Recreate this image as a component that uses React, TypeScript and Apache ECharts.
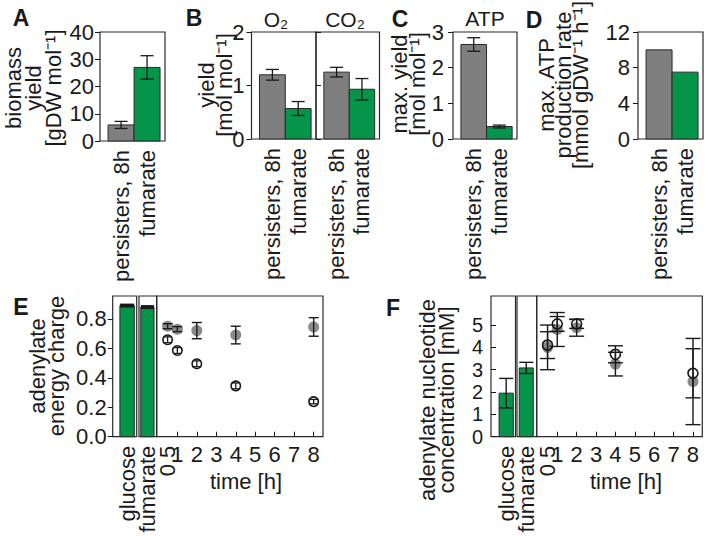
import React, { useEffect, useRef } from 'react';
import * as echarts from 'echarts';

const FONT = '"Liberation Sans", Arial, Helvetica, sans-serif';
const GRAY = '#7f7f7f';
const GREEN = '#04944a';
const DOT = '#8a8a8a';
const INK = '#1a1a1a';
const FS = 22;

// ---------- data: panels A-D ----------
const barCategories = ['persisters, 8h', 'fumarate'];
const barColors = [GRAY, GREEN];
const biomassYield = [5.9, 27.0];
const biomassYieldErr = [1.3, 4.3];
const o2Yield = [1.2, 0.57];
const o2YieldErr = [0.1, 0.13];
const co2Yield = [1.25, 0.93];
const co2YieldErr = [0.09, 0.2];
const atpMaxYield = [2.65, 0.35];
const atpMaxYieldErr = [0.19, 0.04];
const atpMaxRate = [10.0, 7.5];

// ---------- data: panels E-F ----------
const refCategories = ['glucose', 'fumarate'];
const energyChargeRef = [0.89, 0.88];
const energyChargeRefErr = [0.005, 0.005];
const nucleotideRef = [1.95, 3.08];
const nucleotideRefErr = [0.66, 0.25];

const timeH = [0.5, 1, 2, 4, 8];
const energyChargeFilled = [0.75, 0.73, 0.72, 0.69, 0.745];
const energyChargeFilledErr = [0.017, 0.017, 0.055, 0.06, 0.063];
const energyChargeOpen = [0.658, 0.585, 0.495, 0.345, 0.238];
const energyChargeOpenErr = [0.02, 0.02, 0.02, 0.02, 0.015];
const nucleotideFilled = [4.0, 4.8, 4.88, 3.25, 2.47];
const nucleotideFilledErr = [1.0, 0.76, 0.38, 0.53, 1.93];
const nucleotideOpen = [4.1, 5.05, 5.05, 3.69, 2.84];
const nucleotideOpenErr = [0.6, 0.33, 0.2, 0.38, 1.1];

// ---------- tick labels ----------
const timeTicks = [1, 2, 3, 4, 5, 6, 7, 8];
const rotatedTimeTicks = [0.5];
const energyTicks = [0, 0.2, 0.4, 0.6, 0.8];
const nucleotideTicks = [0, 1, 2, 3, 4, 5];

// ---------- layout ----------
const BAR_POS = [0.81, 1.81];
const BAR_XMAX = 2.5;
const grids = [
  { left: 100, top: 32, width: 65, height: 109 }, // A
  { left: 251.5, top: 32, width: 64.5, height: 107 }, // B O2
  { left: 316, top: 32, width: 63.5, height: 107 }, // B CO2
  { left: 453, top: 32, width: 64, height: 107 }, // C
  { left: 638, top: 32, width: 65, height: 107 }, // D
  { left: 112.7, top: 296, width: 24, height: 140.7 }, // E glucose
  { left: 139, top: 296, width: 17.7, height: 140.7 }, // E fumarate
  { left: 156.7, top: 296, width: 166.3, height: 140.7 }, // E time
  { left: 491, top: 296, width: 24.5, height: 140.7 }, // F glucose
  { left: 517, top: 296, width: 19.7, height: 140.7 }, // F fumarate
  { left: 536.7, top: 296, width: 165.6, height: 140.7 }, // F time
];
const T_MIN = -0.06;
const T_MAX = 8.48;

function barSeries(idx: number, pos: number[], values: number[], colors: string[], halfW: number) {
  return {
    type: 'custom',
    xAxisIndex: idx,
    yAxisIndex: idx,
    silent: true,
    z: 2,
    encode: { x: 0, y: 1 },
    data: values.map((v, i) => [pos[i], v, i]),
    renderItem: (params: any, api: any) => {
      const x = api.value(0);
      const v = api.value(1);
      const i = api.value(2);
      const p1 = api.coord([x - halfW, v]);
      const p2 = api.coord([x + halfW, 0]);
      return {
        type: 'rect',
        shape: { x: p1[0], y: p1[1], width: p2[0] - p1[0], height: p2[1] - p1[1] },
        style: { fill: colors[i], stroke: '#2a2a2a', lineWidth: 1 },
      };
    },
  };
}

function errSeries(idx: number, xs: number[], ys: number[], es: number[], cap: number, lw: number, z: number) {
  return {
    type: 'custom',
    xAxisIndex: idx,
    yAxisIndex: idx,
    silent: true,
    z,
    encode: { x: 0, y: 1 },
    data: xs.map((x, i) => [x, ys[i], es[i]]),
    renderItem: (params: any, api: any) => {
      const x = api.value(0);
      const y = api.value(1);
      const e = api.value(2);
      const t = api.coord([x, y + e]);
      const b = api.coord([x, y - e]);
      const st = { stroke: INK, lineWidth: lw };
      return {
        type: 'group',
        children: [
          { type: 'line', shape: { x1: t[0], y1: t[1], x2: b[0], y2: b[1] }, style: st },
          { type: 'line', shape: { x1: t[0] - cap, y1: t[1], x2: t[0] + cap, y2: t[1] }, style: st },
          { type: 'line', shape: { x1: b[0] - cap, y1: b[1], x2: b[0] + cap, y2: b[1] }, style: st },
        ],
      };
    },
  };
}

const labelStyle = { fontSize: FS, fontFamily: FONT, color: INK };

function catXAxis(gridIndex: number, min: number, max: number, pos: number[], names: string[], margin: number) {
  return {
    type: 'value',
    gridIndex,
    position: 'bottom',
    offset: 0,
    min,
    max,
    axisLine: { show: false },
    axisTick: { show: false },
    splitLine: { show: false },
    axisLabel: {
      ...labelStyle,
      rotate: 90,
      margin,
      customValues: pos,
      formatter: (v: number) => {
        let best = 0;
        pos.forEach((p, i) => {
          if (Math.abs(p - v) < Math.abs(pos[best] - v)) best = i;
        });
        return names[best];
      },
    },
  };
}

function valYAxis(gridIndex: number, max: number, interval: number, margin: number) {
  return {
    type: 'value',
    gridIndex,
    min: 0,
    max,
    interval,
    axisLine: { show: false },
    splitLine: { show: false },
    axisTick: { show: true, length: 5, lineStyle: { color: INK, width: 1 } },
    axisLabel: { ...labelStyle, margin },
  };
}

function hiddenY(gridIndex: number, max: number) {
  return { type: 'value', gridIndex, min: 0, max, show: false, splitLine: { show: false } };
}

function txt(x: number, y: number, text: string, opts: any = {}) {
  const size = opts.size || FS;
  const weight = opts.bold ? 'bold' : 'normal';
  return {
    type: 'text',
    x,
    y,
    rotation: opts.rot ? Math.PI / 2 : 0,
    silent: true,
    style: {
      text,
      x: 0,
      y: 0,
      font: `${weight} ${size}px ${FONT}`,
      fontSize: size,
      fontWeight: weight,
      fontFamily: FONT,
      fill: INK,
      lineHeight: opts.lh || size,
      align: 'center',
      verticalAlign: 'middle',
      textAlign: 'center',
      textVerticalAlign: 'middle',
    },
  };
}

export default function App() {
  const ref = useRef<HTMLDivElement>(null);

  useEffect(() => {
    if (!ref.current) return;
    const chart = echarts.init(ref.current, undefined, { renderer: 'svg' });

    const E_MAX = 0.955;
    const F_MAX = 6.3;
    const E1_POS = [0.6];
    const E2_POS = [0.475];
    const F1_POS = [0.62];
    const F2_POS = [0.47];

    const timeAxis = (gridIndex: number) => ({
      type: 'value', gridIndex, position: 'bottom', min: T_MIN, max: T_MAX,
      axisLine: { show: false }, splitLine: { show: false },
      axisTick: { show: true, inside: true, length: 5, customValues: timeTicks, lineStyle: { color: INK } },
      axisLabel: { ...labelStyle, margin: 7, customValues: timeTicks },
    });

    const xAxis: any[] = [
      catXAxis(0, 0, BAR_XMAX, BAR_POS, barCategories, 9),
      catXAxis(1, 0, BAR_XMAX, BAR_POS, barCategories, 9),
      catXAxis(2, 0, BAR_XMAX, BAR_POS, barCategories, 9),
      catXAxis(3, 0, BAR_XMAX, BAR_POS, barCategories, 9),
      catXAxis(4, 0, BAR_XMAX, BAR_POS, barCategories, 9),
      catXAxis(5, 0, 1, E1_POS, [refCategories[0]], 9),
      catXAxis(6, 0, 1, E2_POS, [refCategories[1]], 9),
      timeAxis(7),
      catXAxis(8, 0, 1, F1_POS, [refCategories[0]], 9),
      catXAxis(9, 0, 1, F2_POS, [refCategories[1]], 9),
      timeAxis(10),
      catXAxis(7, T_MIN, T_MAX, rotatedTimeTicks, ['0.5'], 9),
      catXAxis(10, T_MIN, T_MAX, rotatedTimeTicks, ['0.5'], 9),
    ];

    const yAxis: any[] = [
      valYAxis(0, 40, 10, 6),
      valYAxis(1, 2, 1, 7),
      {
        type: 'value', gridIndex: 2, min: 0, max: 2, interval: 1,
        axisLine: { show: false }, splitLine: { show: false },
        axisTick: { show: true, inside: true, length: 5, lineStyle: { color: INK } },
        axisLabel: { show: false },
      },
      valYAxis(3, 3, 1, 9),
      valYAxis(4, 12, 4, 8),
      {
        type: 'value', gridIndex: 5, min: 0, max: E_MAX,
        axisLine: { show: false }, splitLine: { show: false },
        axisTick: { show: true, length: 5, customValues: energyTicks, lineStyle: { color: INK } },
        axisLabel: { ...labelStyle, margin: 6, customValues: energyTicks, formatter: (v: number) => v.toFixed(1) },
      },
      hiddenY(6, E_MAX),
      hiddenY(7, E_MAX),
      {
        type: 'value', gridIndex: 8, min: 0, max: F_MAX,
        axisLine: { show: false }, splitLine: { show: false },
        axisTick: { show: true, inside: true, length: 5, customValues: nucleotideTicks, lineStyle: { color: INK } },
        axisLabel: { ...labelStyle, fontSize: 20, lineHeight: 18, margin: 8, customValues: nucleotideTicks },
      },
      hiddenY(9, F_MAX),
      hiddenY(10, F_MAX),
    ];

    const series: any[] = [
      barSeries(0, BAR_POS, biomassYield, barColors, 0.5),
      errSeries(0, BAR_POS, biomassYield, biomassYieldErr, 6.5, 1.3, 3),
      barSeries(1, BAR_POS, o2Yield, barColors, 0.5),
      errSeries(1, BAR_POS, o2Yield, o2YieldErr, 6.5, 1.3, 3),
      barSeries(2, BAR_POS, co2Yield, barColors, 0.5),
      errSeries(2, BAR_POS, co2Yield, co2YieldErr, 6.5, 1.3, 3),
      barSeries(3, BAR_POS, atpMaxYield, barColors, 0.5),
      errSeries(3, BAR_POS, atpMaxYield, atpMaxYieldErr, 6.5, 1.3, 3),
      barSeries(4, BAR_POS, atpMaxRate, barColors, 0.5),

      barSeries(5, E1_POS, [energyChargeRef[0]], [GREEN], 0.3),
      errSeries(5, E1_POS, [energyChargeRef[0]], [energyChargeRefErr[0]], 7, 2.5, 3),
      barSeries(6, E2_POS, [energyChargeRef[1]], [GREEN], 0.375),
      errSeries(6, E2_POS, [energyChargeRef[1]], [energyChargeRefErr[1]], 6.5, 2.5, 3),
      {
        type: 'scatter', xAxisIndex: 7, yAxisIndex: 7, silent: true, z: 2,
        symbol: 'circle', symbolSize: 11,
        itemStyle: { color: DOT, opacity: 1 },
        data: timeH.map((t, i) => [t, energyChargeFilled[i]]),
      },
      errSeries(7, timeH, energyChargeFilled, energyChargeFilledErr, 5, 1.4, 3),
      {
        type: 'scatter', xAxisIndex: 7, yAxisIndex: 7, silent: true, z: 4,
        symbol: 'circle', symbolSize: 9.5,
        itemStyle: { color: 'rgba(255,255,255,0)', borderColor: INK, borderWidth: 1.6, opacity: 1 },
        data: timeH.map((t, i) => [t, energyChargeOpen[i]]),
      },
      errSeries(7, timeH, energyChargeOpen, energyChargeOpenErr, 4, 1.3, 5),

      barSeries(8, F1_POS, [nucleotideRef[0]], [GREEN], 0.29),
      errSeries(8, F1_POS, [nucleotideRef[0]], [nucleotideRefErr[0]], 7, 1.4, 3),
      barSeries(9, F2_POS, [nucleotideRef[1]], [GREEN], 0.355),
      errSeries(9, F2_POS, [nucleotideRef[1]], [nucleotideRefErr[1]], 7, 1.4, 3),
      {
        type: 'scatter', xAxisIndex: 10, yAxisIndex: 10, silent: true, z: 2,
        symbol: 'circle', symbolSize: 11,
        itemStyle: { color: DOT, opacity: 1 },
        data: timeH.map((t, i) => [t, nucleotideFilled[i]]),
      },
      errSeries(10, timeH, nucleotideFilled, nucleotideFilledErr, 7.5, 1.4, 3),
      {
        type: 'scatter', xAxisIndex: 10, yAxisIndex: 10, silent: true, z: 4,
        symbol: 'circle', symbolSize: 10,
        itemStyle: { color: 'rgba(255,255,255,0)', borderColor: INK, borderWidth: 1.6, opacity: 1 },
        data: timeH.map((t, i) => [t, nucleotideOpen[i]]),
      },
      errSeries(10, timeH, nucleotideOpen, nucleotideOpenErr, 7.5, 1.4, 5),
    ];

    const graphic: any[] = [
      txt(21, 18, 'A', { bold: true, size: 23 }),
      txt(194, 18, 'B', { bold: true, size: 23 }),
      txt(400, 19, 'C', { bold: true, size: 23 }),
      txt(534, 20, 'D', { bold: true, size: 23 }),
      txt(21, 307, 'E', { bold: true, size: 23 }),
      txt(393, 308, 'F', { bold: true, size: 23 }),
      txt(276, 19, 'O₂', { size: 21 }),
      txt(345, 19, 'CO₂', { size: 21 }),
      txt(485, 18, 'ATP', { size: 21 }),
      txt(33, 88, 'biomass\nyield\n[gDW mol⁻¹]', { rot: true, lh: 20 }),
      txt(215, 85, 'yield\n[mol mol⁻¹]', { rot: true, lh: 18 }),
      txt(408, 84, 'max. yield\n[mol mol⁻¹]', { rot: true, lh: 18 }),
      txt(563, 85, 'max. ATP\nproduction rate\n[mmol gDW⁻¹ h⁻¹]', { rot: true, lh: 17 }),
      txt(47, 366, 'adenylate\nenergy charge', { rot: true, lh: 19 }),
      txt(437, 400, 'adenylate nucleotide\nconcentration [mM]', { rot: true, lh: 19 }),
      txt(246, 481, 'time [h]'),
      txt(626, 481, 'time [h]'),
    ];

    chart.setOption({
      animation: false,
      backgroundColor: '#ffffff',
      textStyle: { fontFamily: FONT },
      grid: grids.map((g) => ({
        ...g,
        show: true,
        borderColor: '#2a2a2a',
        borderWidth: 1.2,
        backgroundColor: 'transparent',
        containLabel: false,
      })),
      xAxis,
      yAxis,
      series,
      graphic,
    });

    return () => chart.dispose();
  }, []);

  return (
    <div
      ref={ref}
      style={{ position: 'fixed', left: 0, top: 0, width: 709, height: 536, background: '#fff' }}
    />
  );
}
